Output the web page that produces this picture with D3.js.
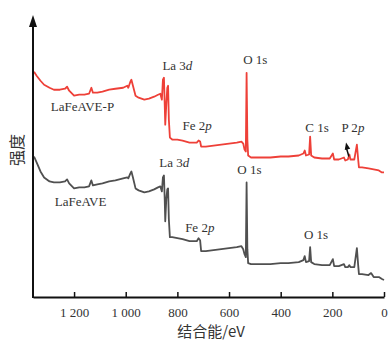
<!DOCTYPE html>
<html>
<head>
<meta charset="utf-8">
<script src="https://cdn.jsdelivr.net/npm/d3@7"></script>
<style>
  html, body { margin: 0; padding: 0; background: #fff; }
  svg text { font-family: "Liberation Serif", "DejaVu Serif", serif; fill: #333; }
</style>
</head>
<body>
<div id="chart"></div>
<script>
// binding energy (eV) of each sampled point
const energyP = [1355, 1345, 1330, 1316, 1295, 1278, 1255, 1235, 1227, 1219, 1200, 1180, 1160, 1142, 1133, 1127,
  1110, 1090, 1064, 1040, 1010, 994, 990, 982, 978, 972, 962, 950, 928, 910, 890, 875, 866, 860, 856, 852, 849,
  847, 843, 839, 836, 833, 829, 820, 800, 780, 753, 725, 718, 712, 708, 690, 660, 630, 600, 570, 552, 545, 540,
  535, 532, 529, 526, 515, 480, 440, 400, 370, 330, 312, 307, 302, 290, 286, 282, 270, 240, 210, 198, 193, 175,
  155, 150, 140, 134, 130, 115, 105, 100, 97, 85, 60, 40, 20, 8, 0];
// LaFeAVE-P intensity (a.u.)
const intensityP = [226, 222, 217, 213, 210, 208, 208, 209, 211, 207, 202, 203, 203, 204, 210, 205,
  205, 206, 208, 209, 210, 212, 210, 216, 218, 212, 202, 200, 198, 199, 201, 203, 204, 198, 218, 220, 193,
  173, 193, 210, 212, 178, 160, 158, 158, 157, 155, 155, 157, 156, 151, 151, 152, 153, 154, 155, 156, 154, 148,
  146, 225, 158, 142, 140, 140, 140, 141, 141, 142, 144, 147, 142, 143, 161, 142, 140, 139, 139, 144, 138, 138,
  140, 137, 138, 143, 138, 138, 153, 138, 130, 130, 129, 128, 127, 125, 125];

const energyV = [1355, 1345, 1330, 1316, 1295, 1278, 1255, 1235, 1227, 1219, 1200, 1180, 1160, 1142, 1133, 1127,
  1110, 1090, 1064, 1040, 1010, 994, 990, 982, 978, 972, 962, 950, 928, 910, 890, 875, 866, 860, 856, 852, 849,
  847, 843, 839, 836, 833, 829, 820, 800, 780, 753, 725, 718, 712, 708, 690, 660, 630, 600, 570, 552, 545, 540,
  535, 532, 529, 526, 515, 480, 440, 400, 370, 330, 312, 307, 302, 290, 286, 282, 270, 240, 210, 198, 193, 175,
  155, 150, 140, 134, 130, 115, 105, 100, 97, 85, 60, 50, 40, 20, 8, 0];
// LaFeAVE intensity (a.u.)
const intensityV = [141, 135, 126, 120, 116, 115, 115, 116, 118, 114, 109, 110, 110, 111, 117, 112,
  113, 114, 116, 117, 119, 120, 119, 124, 126, 120, 109, 107, 105, 106, 108, 110, 111, 106, 120, 122, 98,
  76, 98, 108, 109, 78, 60, 60, 59, 58, 56, 56, 59, 57, 46, 46, 47, 48, 49, 50, 51, 48, 43,
  40, 115, 48, 34, 33, 33, 33, 34, 34, 35, 37, 41, 35, 36, 50, 35, 33, 32, 32, 38, 31, 31,
  33, 30, 30, 32, 30, 30, 49, 32, 23, 23, 22, 24, 20, 20, 18, 17];

const xTicks = [1200, 1000, 800, 600, 400, 200, 0];
const xTickLabels = ['1 200', '1 000', '800', '600', '400', '200', '0'];

// peak labels: [text, italic part, energy, intensity]
const labelsP = [
  ['La 3', 'd', 858, 228],
  ['LaFeAVE-P', '', 1290, 187],
  ['Fe 2', 'p', 780, 168],
  ['O 1s', '', 545, 234],
  ['C 1s', '', 305, 166],
  ['P 2', 'p', 165, 166]
];
const labelsV = [
  ['La 3', 'd', 870, 130],
  ['LaFeAVE', '', 1275, 91],
  ['Fe 2', 'p', 770, 65],
  ['O 1s', '', 568, 123],
  ['O 1s', '', 310, 58]
];

const W = 389, H = 341;
const margin = { left: 33, right: 5, top: 15, bottom: 44 };

const svg = d3.select('#chart').append('svg')
  .attr('width', W).attr('height', H);

const x = d3.scaleLinear().domain([1359, 0]).range([margin.left, 384]);
const y = d3.scaleLinear().domain([0, 283]).range([H - margin.bottom, margin.top]);

const line = d3.line().x(d => x(d[0])).y(d => y(d[1]));

svg.append('path')
  .datum(d3.zip(energyP, intensityP))
  .attr('d', line)
  .attr('fill', 'none')
  .attr('stroke', '#ee4038')
  .attr('stroke-width', 1.8)
  .attr('stroke-linejoin', 'round');

svg.append('path')
  .datum(d3.zip(energyV, intensityV))
  .attr('d', line)
  .attr('fill', 'none')
  .attr('stroke', '#505050')
  .attr('stroke-width', 1.8)
  .attr('stroke-linejoin', 'round');

// x axis, ticks pointing inward
const xAxis = d3.axisBottom(x)
  .tickValues(xTicks)
  .tickSizeInner(-5)
  .tickSizeOuter(0)
  .tickPadding(11)
  .tickFormat((d, i) => xTickLabels[i]);

const gx = svg.append('g')
  .attr('transform', `translate(0,${H - margin.bottom})`)
  .call(xAxis);
gx.select('.domain').attr('stroke', '#111').attr('stroke-width', 2);
gx.selectAll('.tick line').attr('stroke', '#111').attr('stroke-width', 1.5);
gx.selectAll('.tick text')
  .style('font-family', '"Liberation Serif", serif')
  .style('font-size', '13px')
  .attr('fill', '#333');

// y axis with arrow
svg.append('line')
  .attr('x1', margin.left).attr('x2', margin.left)
  .attr('y1', H - margin.bottom + 1).attr('y2', margin.top + 10)
  .attr('stroke', '#111').attr('stroke-width', 2);
svg.append('path')
  .attr('d', `M${margin.left},${margin.top} L${margin.left - 4},${margin.top + 12} L${margin.left + 4},${margin.top + 12} Z`)
  .attr('fill', '#111');

// axis titles
svg.append('text')
  .attr('x', 211).attr('y', 337)
  .attr('text-anchor', 'middle')
  .style('font-family', '"Noto Sans CJK SC", sans-serif')
  .style('font-size', '15px')
  .attr('fill', '#444')
  .text('结合能/eV');

svg.append('text')
  .attr('transform', 'translate(23,150) rotate(-90)')
  .attr('text-anchor', 'middle')
  .style('font-family', '"Noto Sans CJK SC", sans-serif')
  .style('font-size', '16px')
  .attr('fill', '#555')
  .text('强度');

// peak labels
function addLabels(list) {
  list.forEach(l => {
    const t = svg.append('text')
      .attr('x', x(l[2])).attr('y', y(l[3]))
      .style('font-size', '13px');
    t.append('tspan').text(l[0]);
    if (l[1]) t.append('tspan').style('font-style', 'italic').text(l[1]);
  });
}
addLabels(labelsP);
addLabels(labelsV);

// small arrow pointing at P 2p peak
svg.append('line')
  .attr('x1', x(136)).attr('y1', y(141))
  .attr('x2', x(146)).attr('y2', y(150))
  .attr('stroke', '#111').attr('stroke-width', 1.5);
svg.append('path')
  .attr('transform', `translate(${x(147)},${y(155)}) rotate(-12)`)
  .attr('d', 'M0,0 L-2.8,7 L2.8,7 Z')
  .attr('fill', '#111');
</script>
</body>
</html>
